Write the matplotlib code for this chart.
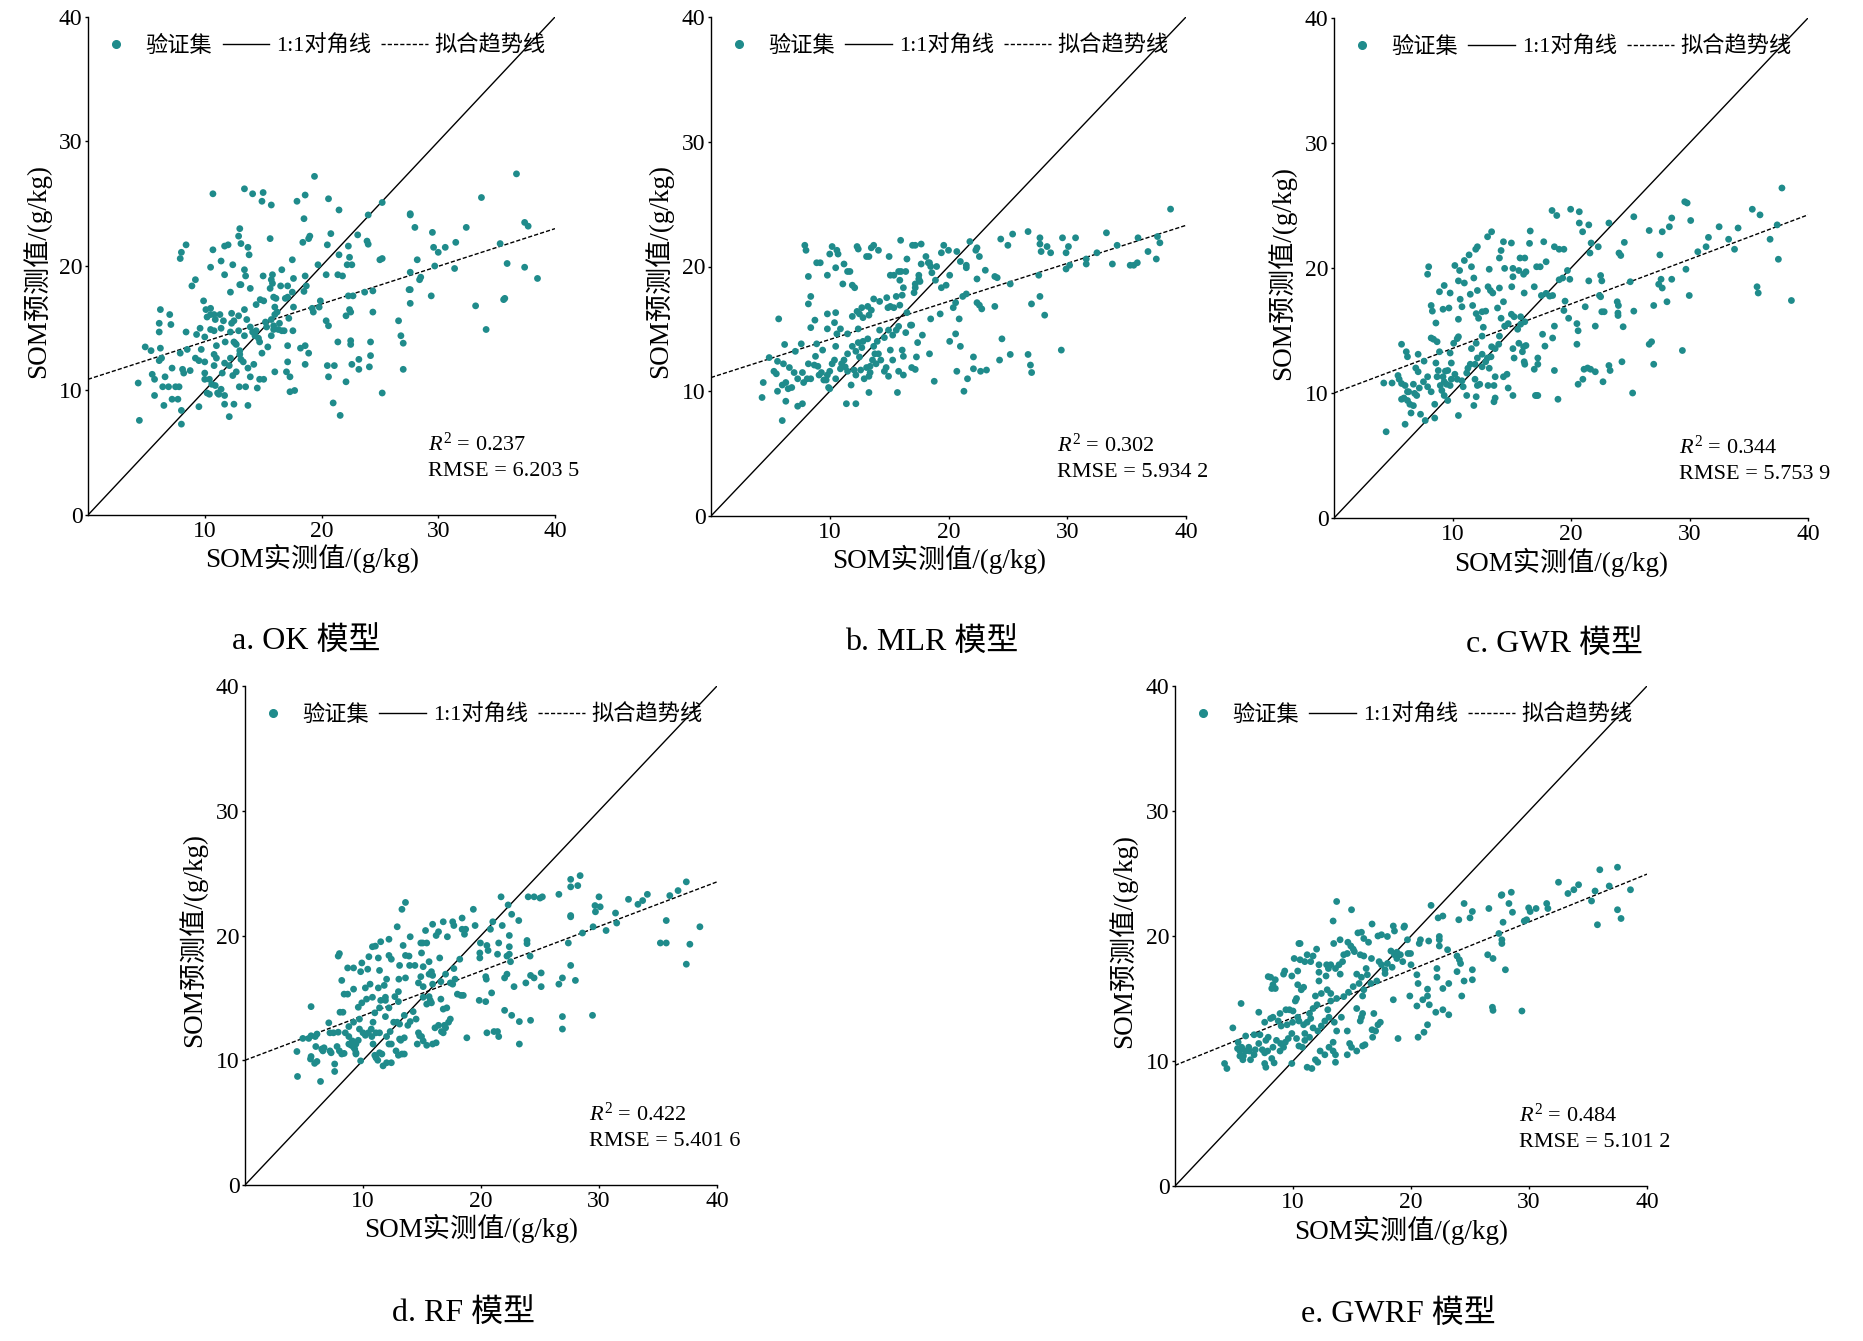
import matplotlib
matplotlib.use('Agg')
import matplotlib.pyplot as plt
from matplotlib.lines import Line2D

plt.rcParams['font.family'] = ['Liberation Serif', 'Noto Sans CJK SC']
plt.rcParams['mathtext.fontset'] = 'custom'
plt.rcParams['mathtext.rm'] = 'Liberation Serif'
plt.rcParams['mathtext.it'] = 'Liberation Serif:italic'
plt.rcParams['axes.unicode_minus'] = False

ok_points = [
    (19.4, 27.2), (36.7, 27.4), (10.7, 25.8), (13.4, 26.2), (14.1, 25.8), (15.0, 25.9), (14.9, 25.2),
    (15.7, 24.9), (18.6, 25.7), (17.9, 25.2), (20.6, 25.4), (21.5, 24.5), (25.2, 25.1), (24.0, 24.1),
    (18.5, 23.8), (33.7, 25.5), (27.6, 24.1), (27.6, 24.2), (28.0, 23.1), (32.4, 23.1), (37.4, 23.5),
    (37.7, 23.2), (29.5, 22.7), (13.0, 23.0), (15.6, 22.2), (20.8, 22.6), (19.0, 22.4), (18.9, 22.2),
    (23.1, 22.5), (23.9, 22.0), (24.0, 21.75), (31.5, 21.9), (35.3, 21.8), (8.4, 21.7), (8.0, 21.1),
    (7.9, 20.6), (10.7, 21.3), (11.7, 21.6), (12.0, 21.7), (13.1, 21.8), (13.7, 21.5), (13.8, 20.9),
    (12.9, 22.4), (18.4, 21.9), (20.5, 21.7), (22.3, 21.6), (21.5, 20.9), (25.0, 20.5), (25.2, 20.6),
    (28.2, 20.5), (29.6, 21.5), (30.0, 21.1), (30.6, 21.5), (11.4, 20.4), (12.4, 20.1), (10.5, 19.9),
    (11.7, 19.3), (13.4, 19.7), (13.5, 19.2), (15.0, 19.2), (15.8, 19.3), (16.6, 19.7), (17.5, 20.5),
    (17.6, 19.0), (18.6, 19.2), (19.7, 20.1), (20.4, 19.3), (21.4, 19.3), (21.8, 19.2), (22.2, 20.1),
    (22.6, 20.1), (22.4, 20.7), (27.6, 19.5), (28.5, 19.1), (28.4, 18.9), (29.7, 20.0), (31.4, 19.8),
    (35.9, 20.2), (37.4, 19.9), (38.5, 19.0), (9.2, 18.9), (8.9, 18.4), (12.2, 17.9), (13.0, 18.5),
    (13.1, 18.5), (13.9, 18.2), (15.7, 18.9), (15.8, 18.6), (16.5, 18.4), (17.1, 18.4), (17.5, 17.9),
    (18.7, 18.4), (18.5, 17.96), (27.5, 18.1), (27.6, 18.1), (27.6, 17.0), (29.4, 17.6), (24.4, 18.0),
    (23.7, 17.9), (22.3, 17.6), (22.7, 17.6), (19.9, 17.2), (19.8, 16.7), (19.2, 16.6), (19.3, 16.3),
    (24.4, 16.3), (22.4, 16.5), (22.5, 16.3), (22.1, 16.0), (33.2, 16.8), (35.7, 17.4), (35.6, 17.3),
    (34.1, 14.9), (26.6, 15.6), (26.8, 14.4), (27.0, 13.8), (27.0, 11.7), (20.4, 15.6), (20.6, 15.2),
    (21.4, 13.9), (22.5, 14.0), (22.5, 13.7), (24.2, 13.9), (24.2, 12.8), (23.2, 12.5), (23.2, 11.7),
    (24.1, 11.9), (22.6, 12.1), (20.5, 12.0), (21.1, 12.0), (20.6, 11.1), (22.1, 10.7), (21.0, 9.0),
    (21.6, 8.0), (25.2, 9.8), (18.6, 13.6), (18.9, 13.0), (18.6, 12.1), (18.2, 13.4), (17.1, 13.6),
    (17.1, 12.3), (16.0, 11.5), (17.0, 11.5), (17.3, 11.1), (17.3, 9.9), (17.7, 10.0), (14.7, 10.9),
    (15.05, 10.9), (14.5, 10.2), (13.5, 10.3), (12.96, 10.3), (13.7, 8.8), (12.5, 8.9), (11.7, 8.9),
    (12.1, 7.9), (9.5, 8.7), (8.0, 8.4), (8.0, 7.3), (4.4, 7.6), (4.3, 10.6), (6.5, 8.8), (7.2, 9.3),
    (7.7, 9.3), (5.7, 9.6), (4.9, 13.5), (5.4, 13.2), (5.5, 11.3), (5.7, 10.9), (6.1, 12.4), (6.2, 16.5),
    (6.1, 15.4), (6.1, 14.7), (7.0, 16.1), (7.1, 15.3), (6.2, 13.4), (6.3, 12.6), (6.6, 11.1), (6.4, 10.3),
    (6.9, 10.3), (7.2, 11.8), (7.5, 10.3), (7.8, 10.3), (7.9, 13.0), (8.1, 11.7), (8.2, 11.4), (8.4, 14.7),
    (8.5, 13.3), (8.75, 11.6), (9.2, 12.6), (9.3, 14.5), (9.6, 15.0), (9.7, 13.3), (9.5, 12.4), (10.0, 12.3),
    (10.0, 14.3), (9.9, 17.2), (10.1, 16.5), (10.5, 16.6), (10.2, 15.9), (10.5, 16.1), (10.8, 16.1),
    (10.9, 15.7), (11.3, 16.1), (10.5, 14.9), (10.8, 14.8), (11.4, 15.0), (11.0, 13.6), (10.8, 12.9),
    (11.0, 12.6), (10.8, 12.0), (10.0, 11.4), (10.0, 10.9), (10.4, 10.9), (10.6, 10.5), (10.9, 10.4),
    (10.2, 9.8), (10.4, 9.7), (11.1, 9.8), (11.2, 9.7), (11.7, 9.6), (11.4, 10.1), (11.5, 11.4),
    (11.7, 12.2), (12.1, 12.0), (12.4, 11.2), (12.7, 11.5), (11.75, 13.9), (12.2, 14.7), (12.3, 15.4),
    (11.6, 15.6), (12.3, 16.2), (12.6, 13.8), (12.7, 13.7), (13.0, 13.2), (13.1, 12.5), (13.3, 12.3),
    (13.4, 14.4), (13.4, 16.5), (13.6, 15.7), (13.9, 15.1), (14.1, 14.7), (14.4, 14.8), (14.75, 17.3),
    (15.05, 17.2), (14.7, 13.9), (14.9, 13.0), (15.4, 13.5), (15.7, 14.4), (16.0, 16.1), (16.0, 16.7),
    (16.2, 16.3), (16.4, 15.4), (16.8, 14.8), (15.9, 14.9), (15.3, 15.1), (15.2, 15.5), (15.7, 15.7),
    (15.9, 15.2), (16.3, 14.9), (16.6, 14.8), (17.2, 15.8), (17.55, 14.8), (17.6, 16.7), (17.1, 17.5),
    (15.6, 18.2), (15.9, 17.5), (16.1, 17.4), (16.9, 17.4), (14.4, 16.9), (14.3, 14.4), (14.6, 14.2),
    (12.5, 13.9), (12.9, 14.8), (12.5, 15.6), (12.9, 16.0), (13.0, 12.9), (12.2, 12.6), (13.7, 11.8),
    (13.9, 11.1), (14.2, 12.1),
]

mlr_points = [
    (7.9, 21.7), (8.0, 21.3), (10.2, 21.6), (10.6, 21.3), (10.7, 21.0), (10.0, 21.0), (12.3, 21.6),
    (12.4, 21.4), (13.1, 20.8), (13.3, 20.8), (13.7, 21.7), (14.1, 21.3), (13.5, 21.5), (15.0, 20.8),
    (15.97, 22.1), (16.97, 21.7), (17.2, 21.7), (17.7, 21.8), (16.5, 20.6), (18.1, 20.8), (18.4, 20.3),
    (19.6, 21.7), (20.0, 21.3), (19.4, 21.1), (20.7, 21.2), (21.8, 22.0), (22.4, 21.5), (22.3, 21.3),
    (22.6, 20.8), (24.4, 22.2), (25.4, 22.6), (26.7, 22.8), (25.0, 21.7), (27.7, 22.3), (27.7, 21.8),
    (28.3, 21.6), (28.6, 21.1), (27.8, 21.2), (29.6, 22.3), (30.7, 22.3), (30.1, 21.6), (29.9, 21.1),
    (32.5, 21.1), (33.3, 22.7), (34.2, 21.7), (35.96, 22.3), (37.6, 22.4), (37.8, 21.9), (36.8, 21.2),
    (38.7, 24.6), (37.5, 20.6), (33.8, 20.2), (31.6, 20.6), (31.6, 20.2), (35.3, 20.1), (35.6, 20.1),
    (35.9, 20.3), (29.9, 19.8), (30.2, 20.1), (27.6, 19.3), (27.7, 17.6), (26.99, 17.0), (28.1, 16.1),
    (29.5, 13.3), (26.7, 12.95), (26.9, 12.1), (27.0, 11.5), (25.2, 12.95), (24.3, 12.5), (24.5, 14.2),
    (23.9, 16.8), (24.1, 19.1), (23.9, 19.2), (25.2, 18.6), (23.1, 19.7), (22.4, 19.0), (21.5, 20.1),
    (21.5, 19.9), (21.0, 20.4), (20.1, 19.3), (19.8, 18.5), (19.4, 18.3), (18.9, 18.9), (19.0, 20.0),
    (18.6, 19.5), (18.5, 20.0), (17.7, 20.2), (17.5, 19.3), (17.6, 18.8), (17.2, 18.3), (17.1, 17.9),
    (17.5, 19.0), (17.2, 18.6), (18.3, 20.3), (16.0, 19.6), (15.8, 19.6), (15.1, 19.3), (15.4, 19.3),
    (16.4, 19.6), (15.9, 18.9), (16.2, 18.3), (16.1, 17.7), (15.9, 16.9), (15.4, 16.7), (14.9, 16.7),
    (14.8, 17.5), (14.2, 17.2), (13.7, 17.4), (13.5, 16.5), (13.2, 16.8), (13.3, 16.1), (12.8, 15.9),
    (12.5, 16.2), (12.3, 16.4), (12.4, 15.0), (11.9, 16.0), (11.9, 18.5), (12.1, 18.3), (11.1, 18.6),
    (11.7, 19.6), (11.5, 19.6), (11.2, 20.2), (10.5, 19.9), (9.8, 19.3), (9.2, 20.3), (8.9, 20.3),
    (8.2, 19.2), (8.4, 17.6), (8.2, 17.0), (8.75, 15.7), (8.4, 15.1), (9.8, 16.2), (10.5, 16.3),
    (10.4, 15.5), (10.6, 14.6), (10.9, 15.0), (10.5, 13.6), (9.8, 15.0), (9.4, 13.3), (8.9, 13.8),
    (8.8, 12.8), (7.6, 13.8), (7.1, 13.2), (6.2, 13.75), (5.7, 15.8), (4.9, 12.7), (5.6, 12.4),
    (5.3, 11.6), (5.5, 11.4), (6.1, 12.2), (6.6, 11.9), (7.0, 11.5), (6.3, 10.7), (6.0, 10.5),
    (6.5, 10.2), (6.8, 10.3), (7.3, 11.0), (7.7, 11.5), (7.8, 10.7), (8.1, 11.0), (8.4, 11.0),
    (8.2, 12.2), (8.7, 12.1), (9.0, 12.0), (9.1, 11.3), (9.3, 11.5), (9.5, 10.9), (9.8, 11.3),
    (9.7, 10.9), (10.0, 11.6), (10.2, 12.2), (10.4, 12.5), (10.5, 11.0), (9.9, 10.3), (10.0, 10.2),
    (4.3, 9.5), (4.4, 10.7), (5.6, 10.0), (6.3, 9.2), (6.0, 7.65), (7.3, 8.8), (7.7, 9.0), (11.4, 9.0),
    (12.2, 9.0), (13.3, 9.9), (15.7, 9.9), (18.8, 10.8), (21.3, 10.0), (21.6, 11.0), (20.7, 11.6),
    (22.1, 11.8), (22.7, 11.6), (23.2, 11.7), (22.1, 12.75), (21.0, 13.6), (20.1, 14.0), (20.6, 14.6),
    (20.9, 15.8), (20.4, 16.7), (20.6, 17.1), (21.2, 17.6), (22.4, 17.1), (22.6, 16.9), (22.8, 16.6),
    (21.5, 17.8), (19.3, 16.2), (18.5, 15.8), (18.4, 13.0), (17.8, 14.5), (17.4, 13.9), (17.3, 12.75),
    (17.2, 11.75), (16.9, 11.9), (16.2, 12.8), (16.2, 11.3), (15.8, 11.6), (16.1, 13.3), (16.4, 14.7),
    (16.8, 15.3), (16.9, 15.3), (16.5, 16.3), (15.6, 14.9), (15.8, 15.2), (15.3, 14.5), (14.95, 14.9),
    (14.6, 14.3), (14.2, 14.9), (14.0, 14.0), (13.6, 12.5), (13.9, 12.2), (13.4, 12.0), (13.1, 11.9),
    (13.4, 11.5), (13.3, 11.2), (12.9, 11.0), (12.6, 11.7), (12.05, 11.7), (12.5, 12.75), (12.2, 13.2),
    (11.9, 13.6), (11.5, 13.0), (11.2, 12.5), (11.0, 12.2), (11.3, 11.95), (11.5, 11.6), (10.9, 11.8),
    (11.8, 10.5), (12.2, 11.3), (12.4, 13.9), (12.8, 14.0), (13.2, 14.2), (13.7, 13.6), (14.1, 13.0),
    (14.3, 12.5), (14.75, 11.9), (14.95, 11.2), (15.3, 12.5), (15.1, 13.3), (14.6, 11.6), (13.8, 13.0),
    (12.7, 13.5), (11.5, 14.6), (12.7, 16.7), (15.1, 16.8), (15.6, 17.6),
]

gwr_points = [
    (37.8, 26.4), (29.6, 25.3), (29.8, 25.2), (35.3, 24.7), (35.95, 24.25), (18.4, 24.6), (19.97, 24.7),
    (20.7, 24.5), (18.8, 24.2), (25.3, 24.1), (20.7, 23.6), (21.5, 23.45), (23.2, 23.6), (28.5, 24.0),
    (30.1, 23.8), (28.3, 23.3), (27.7, 22.9), (26.6, 23.0), (32.5, 23.3), (34.1, 23.2), (37.4, 23.45),
    (36.8, 22.3), (20.98, 22.9), (13.3, 22.9), (12.96, 22.5), (14.3, 22.1), (14.97, 22.0), (16.56, 22.96),
    (16.5, 21.97), (17.7, 22.1), (21.7, 22.0), (22.3, 21.7), (21.6, 21.2), (24.5, 22.05), (24.05, 21.2),
    (24.2, 21.0), (31.6, 22.45), (33.3, 22.3), (33.8, 21.5), (31.4, 21.7), (30.7, 21.3), (12.1, 21.7),
    (11.96, 21.5), (11.4, 21.05), (11.0, 20.6), (14.1, 21.4), (13.96, 20.8), (15.7, 20.8), (16.1, 20.8),
    (18.6, 21.7), (19.0, 21.5), (19.4, 21.5), (17.9, 20.5), (17.1, 20.1), (17.4, 20.1), (7.99, 20.1),
    (7.9, 19.5), (10.2, 20.2), (10.6, 19.8), (11.6, 20.1), (13.1, 19.9), (14.4, 19.97), (15.1, 19.97),
    (15.1, 19.3), (15.6, 19.8), (16.0, 19.5), (16.2, 19.7), (11.8, 19.2), (10.5, 18.97), (9.3, 18.6),
    (8.9, 18.1), (9.8, 18.0), (11.0, 18.8), (11.5, 17.9), (12.1, 18.2), (13.0, 18.5), (13.2, 18.2),
    (13.96, 18.4), (15.0, 18.5), (13.4, 18.0), (16.05, 18.0), (16.9, 18.5), (17.5, 17.8), (17.9, 17.97),
    (18.2, 17.75), (18.45, 17.8), (19.0, 19.06), (19.3, 19.2), (19.7, 19.8), (19.9, 19.1), (21.5, 18.97),
    (22.5, 19.4), (22.6, 18.97), (22.4, 17.8), (22.5, 17.7), (25.0, 18.9), (27.5, 21.05), (27.6, 19.1),
    (27.4, 18.7), (27.7, 18.4), (28.5, 19.1), (29.7, 19.9), (29.98, 17.8), (28.1, 17.3), (26.98, 17.0),
    (35.7, 18.5), (35.8, 18.0), (38.6, 17.4), (37.5, 20.7), (23.9, 17.3), (24.0, 17.0), (23.96, 16.4),
    (23.97, 16.2), (25.3, 16.55), (24.4, 15.3), (22.05, 15.35), (22.6, 16.5), (22.8, 16.5), (21.2, 16.9),
    (20.5, 15.55), (20.6, 14.98), (19.8, 15.98), (20.5, 13.9), (19.5, 17.35), (19.4, 16.6), (18.6, 15.35),
    (18.45, 14.4), (18.6, 11.8), (18.9, 9.5), (20.6, 10.7), (21.1, 11.9), (21.0, 11.1), (21.4, 12.0),
    (21.65, 11.9), (22.05, 11.7), (22.7, 10.9), (23.2, 12.2), (23.3, 11.8), (24.3, 12.5), (25.2, 10.0),
    (26.6, 13.9), (26.8, 14.1), (26.98, 12.3), (29.4, 13.4), (17.6, 14.7), (17.8, 13.75), (17.2, 12.8),
    (17.2, 12.3), (16.9, 11.9), (17.1, 9.8), (17.2, 9.8), (17.0, 9.8), (16.05, 12.5), (16.1, 12.3),
    (15.9, 13.3), (16.0, 13.7), (16.2, 13.8), (15.6, 13.98), (15.2, 12.8), (15.1, 13.55), (15.5, 15.1),
    (15.75, 15.5), (16.1, 15.7), (15.75, 16.1), (14.97, 16.3), (15.2, 16.1), (14.7, 15.55), (14.4, 15.35),
    (14.1, 15.98), (14.3, 17.3), (13.8, 16.8), (13.96, 14.55), (13.9, 13.9), (13.6, 13.55), (13.3, 13.7),
    (13.25, 12.9), (12.95, 12.8), (12.5, 13.1), (12.8, 12.5), (13.1, 11.98), (13.6, 11.3), (14.3, 11.3),
    (14.6, 11.5), (14.7, 10.4), (15.1, 9.8), (13.5, 10.6), (13.0, 10.6), (13.6, 9.6), (13.5, 9.3),
    (12.1, 10.6), (12.3, 10.7), (11.9, 11.1), (12.0, 9.7), (11.8, 9.0), (11.2, 9.8), (10.5, 8.2),
    (10.9, 10.5), (10.8, 10.98), (11.2, 11.6), (11.3, 11.98), (11.5, 12.3), (11.9, 12.3), (12.1, 12.8),
    (12.5, 12.1), (11.6, 13.55), (12.0, 13.98), (12.5, 14.55), (12.6, 15.26), (12.2, 15.98), (12.0, 16.35),
    (12.5, 16.5), (12.8, 16.55), (11.7, 17.0), (10.8, 16.9), (10.65, 17.5), (10.5, 15.9), (10.5, 14.5),
    (10.4, 14.35), (10.1, 13.98), (9.8, 13.2), (9.9, 12.4), (9.6, 11.8), (9.4, 11.75), (9.2, 11.3),
    (9.3, 10.9), (9.5, 10.7), (9.8, 10.6), (9.9, 11.1), (10.2, 11.5), (10.4, 11.1), (8.97, 10.6),
    (9.1, 10.2), (9.3, 9.8), (9.6, 9.4), (8.7, 11.3), (8.8, 11.8), (8.6, 12.4), (8.9, 13.3), (8.4, 14.3),
    (8.2, 14.4), (8.7, 14.1), (8.6, 15.6), (8.3, 16.55), (8.2, 17.0), (9.2, 16.7), (9.7, 16.8), (8.5, 9.1),
    (8.5, 8.0), (7.3, 8.3), (7.7, 7.8), (6.98, 9.8), (7.2, 10.4), (7.55, 10.9), (7.9, 11.3), (7.9, 10.5),
    (8.2, 10.1), (7.1, 11.7), (6.9, 12.0), (7.1, 13.1), (7.6, 12.55), (6.7, 10.7), (6.8, 9.97), (6.3, 10.1),
    (6.2, 9.4), (6.4, 9.1), (6.7, 8.99), (6.5, 8.4), (6.0, 7.5), (5.7, 9.5), (5.9, 9.6), (5.4, 11.4),
    (5.5, 11.1), (5.7, 10.76), (6.0, 10.6), (6.2, 10.1), (4.2, 10.8), (4.9, 10.8), (5.7, 13.9), (6.1, 13.3),
    (6.2, 12.9), (4.4, 6.9),
]

rf_points = [
    (28.4, 24.8), (27.6, 24.5), (27.6, 23.9), (28.2, 24.0), (37.4, 24.3), (36.7, 23.6), (36.0, 23.2),
    (34.1, 23.3), (33.7, 22.8), (33.3, 22.5), (32.5, 22.9), (30.0, 23.1), (29.66, 22.4), (30.1, 22.3),
    (29.7, 21.9), (26.6, 23.3), (24.0, 23.1), (24.5, 23.1), (25.0, 23.0), (25.2, 23.1), (21.7, 23.1),
    (22.3, 22.45), (22.6, 21.7), (23.2, 21.2), (21.8, 20.8), (21.0, 21.1), (20.8, 20.5), (22.4, 20.0),
    (22.4, 19.1), (22.4, 18.5), (22.2, 18.35), (22.5, 17.9), (21.4, 18.5), (21.5, 19.4), (20.5, 19.2),
    (20.6, 18.8), (19.95, 19.4), (19.9, 18.6), (19.9, 18.2), (19.5, 20.8), (19.35, 22.1), (18.6, 20.1),
    (18.4, 20.5), (18.7, 20.5), (18.4, 21.4), (17.7, 20.8), (17.6, 21.1), (16.8, 21.1), (16.4, 20.3),
    (15.9, 20.9), (16.2, 20.0), (17.15, 19.9), (15.3, 20.4), (14.9, 19.4), (15.06, 19.4), (14.96, 18.6),
    (15.4, 19.4), (14.0, 19.9), (13.6, 22.65), (13.3, 22.1), (12.9, 20.7), (12.2, 19.7), (11.5, 19.5),
    (10.8, 19.1), (11.05, 19.15), (10.5, 18.3), (11.3, 18.2), (12.2, 18.4), (12.4, 18.1), (13.4, 19.2),
    (13.6, 18.4), (13.9, 18.35), (13.1, 17.6), (13.95, 17.6), (14.4, 17.6), (15.1, 17.5), (15.6, 17.9),
    (15.8, 17.1), (15.9, 16.8), (15.6, 16.9), (16.5, 18.2), (17.0, 16.9), (17.7, 17.35), (17.8, 16.5),
    (17.6, 16.1), (17.4, 16.2), (18.0, 15.3), (18.3, 15.2), (18.5, 15.2), (18.2, 18.1), (16.6, 16.3),
    (16.6, 14.9), (15.9, 16.1), (15.6, 15.1), (15.7, 14.8), (15.8, 14.6), (15.4, 14.5), (15.1, 15.05),
    (15.1, 15.9), (14.7, 16.2), (14.9, 16.7), (13.6, 16.6), (13.04, 16.5), (13.0, 15.5), (12.7, 15.1),
    (13.0, 14.7), (12.0, 16.5), (11.8, 16.0), (11.9, 15.05), (11.9, 14.8), (11.4, 17.2), (10.4, 17.3),
    (9.9, 17.8), (9.8, 17.1), (9.2, 17.4), (8.7, 17.4), (8.2, 16.4), (7.9, 18.35), (8.0, 18.55),
    (8.4, 15.3), (8.7, 15.3), (9.2, 15.7), (10.2, 15.8), (10.6, 16.1), (10.3, 14.9), (10.8, 15.05),
    (11.3, 15.8), (9.9, 14.6), (9.6, 14.25), (11.0, 13.8), (10.85, 13.05), (11.4, 14.2), (11.5, 14.8),
    (12.2, 14.2), (11.9, 13.5), (12.6, 13.05), (12.3, 12.3), (12.0, 11.9), (12.2, 11.3), (12.4, 11.3),
    (12.8, 10.75), (13.0, 10.4), (13.3, 10.5), (13.5, 10.5), (13.1, 11.7), (13.2, 11.6), (13.5, 11.8),
    (13.8, 12.8), (14.0, 13.1), (14.5, 13.3), (13.5, 13.6), (14.25, 13.9), (12.9, 13.05), (13.1, 12.9),
    (14.7, 12.2), (14.8, 11.96), (14.96, 11.9), (14.6, 11.3), (15.1, 11.55), (15.4, 11.2), (15.9, 11.3),
    (16.2, 11.4), (16.1, 12.6), (16.4, 12.8), (16.9, 12.8), (16.65, 12.3), (16.8, 12.2), (17.0, 12.6),
    (17.25, 13.05), (17.4, 13.3), (17.1, 14.2), (16.8, 14.1), (18.8, 11.8), (20.5, 12.2), (21.1, 12.3),
    (21.4, 12.3), (21.5, 11.9), (22.0, 14.0), (22.6, 13.6), (23.25, 13.1), (24.2, 13.2), (23.25, 11.3),
    (19.85, 14.8), (20.4, 14.7), (20.9, 15.4), (20.45, 16.5), (20.4, 16.7), (22.8, 15.9), (22.2, 16.9),
    (22.0, 16.6), (23.8, 16.2), (24.2, 16.8), (24.5, 16.6), (25.1, 17.0), (25.1, 15.9), (23.9, 19.6),
    (23.9, 19.35), (24.16, 18.35), (26.6, 16.1), (26.9, 16.6), (28.0, 16.4), (27.6, 17.6), (27.4, 19.4),
    (27.6, 21.5), (27.6, 21.6), (28.6, 20.2), (29.5, 20.7), (30.6, 20.4), (31.4, 21.8), (31.5, 21.0),
    (35.7, 21.2), (38.55, 20.7), (35.2, 19.4), (35.7, 19.4), (37.7, 19.3), (37.4, 17.7), (29.45, 13.6),
    (26.9, 13.5), (26.9, 12.5), (4.45, 8.7), (4.4, 10.7), (5.6, 14.3), (4.9, 11.75), (5.4, 11.75),
    (5.6, 11.96), (6.1, 12.1), (5.95, 11.9), (5.6, 10.3), (5.55, 10.1), (5.9, 9.75), (6.1, 9.9), (6.4, 8.3),
    (6.0, 11.1), (6.5, 10.9), (6.7, 11.0), (6.6, 10.75), (7.1, 13.0), (7.2, 12.2), (7.3, 10.6), (7.2, 10.75),
    (7.6, 9.7), (7.6, 9.1), (7.5, 12.2), (7.9, 12.25), (7.8, 11.1), (8.0, 10.75), (8.2, 10.5), (8.4, 10.55),
    (8.05, 13.85), (8.3, 13.85), (8.8, 12.7), (8.5, 12.2), (8.8, 11.9), (8.8, 11.3), (9.1, 11.55),
    (9.0, 11.2), (9.2, 11.05), (9.3, 10.9), (9.4, 11.3), (9.6, 11.6), (9.4, 10.6), (9.4, 10.5), (9.8, 9.95),
    (9.7, 12.5), (9.2, 13.05), (9.7, 13.3), (10.0, 12.2), (10.2, 12.0), (10.45, 12.2), (10.7, 12.5),
    (10.75, 11.9), (10.85, 11.3), (11.0, 10.4), (11.1, 10.2), (11.25, 10.0), (11.4, 10.6), (11.1, 12.2),
    (11.4, 12.2), (11.6, 10.5), (11.7, 9.55), (12.0, 9.8), (12.4, 9.8),
]

gwrf_points = [
    (37.5, 25.5), (36.0, 25.3), (32.5, 24.3), (34.2, 24.1), (33.3, 23.4), (33.8, 23.7), (35.6, 23.6),
    (36.8, 24.0), (38.6, 23.7), (35.3, 22.8), (37.5, 22.1), (37.8, 21.4), (35.8, 20.9), (28.5, 23.5),
    (27.65, 23.25), (27.7, 23.3), (28.3, 22.6), (28.6, 21.9), (26.6, 22.2), (27.8, 21.1), (29.97, 22.25),
    (30.1, 21.96), (30.6, 22.2), (31.5, 22.6), (31.6, 22.2), (29.6, 21.2), (29.8, 21.3), (27.45, 20.2),
    (27.7, 19.7), (27.7, 19.4), (26.5, 18.5), (26.95, 18.2), (28.0, 17.3), (29.4, 14.0), (26.9, 14.3),
    (26.95, 14.05), (24.5, 22.6), (25.2, 21.96), (25.0, 21.45), (24.05, 21.3), (21.7, 22.45), (22.3, 21.45),
    (22.7, 21.6), (22.4, 19.96), (22.4, 19.7), (22.4, 19.2), (21.5, 19.6), (20.8, 19.7), (20.7, 19.4),
    (19.7, 19.7), (19.96, 18.6), (19.75, 18.6), (19.45, 20.8), (19.4, 20.7), (18.5, 20.8), (18.6, 20.4),
    (18.0, 19.96), (17.5, 20.1), (17.2, 20.0), (16.7, 20.96), (16.0, 19.8), (16.4, 19.5), (15.8, 20.3),
    (15.5, 20.25), (14.96, 22.1), (13.7, 22.76), (13.4, 21.2), (13.99, 19.7), (13.45, 19.4), (14.65, 19.5),
    (14.9, 19.2), (15.1, 18.95), (15.2, 18.75), (14.6, 18.6), (14.3, 18.5), (15.7, 18.5), (16.0, 18.4),
    (16.65, 18.2), (17.3, 17.95), (17.5, 17.7), (17.8, 17.3), (17.8, 17.0), (18.0, 17.8), (18.4, 17.5),
    (18.8, 18.2), (19.1, 18.5), (19.3, 17.95), (18.3, 18.8), (18.6, 18.5), (18.8, 18.7), (20.0, 17.7),
    (20.5, 16.9), (20.6, 16.2), (21.4, 15.75), (22.2, 17.4), (22.2, 16.7), (22.7, 15.8), (23.2, 16.2),
    (22.7, 14.1), (22.1, 13.9), (23.2, 13.7), (23.1, 18.9), (23.9, 18.4), (24.1, 18.1), (24.2, 17.8),
    (23.9, 17.15), (24.5, 16.4), (25.2, 16.5), (25.2, 17.3), (24.3, 15.2), (21.4, 15.2), (21.55, 14.5),
    (20.5, 14.4), (21.0, 14.9), (19.9, 15.2), (18.5, 14.9), (18.9, 11.8), (20.6, 11.9), (21.1, 12.3),
    (21.4, 12.9), (17.1, 16.4), (16.6, 16.2), (16.0, 15.7), (15.9, 15.2), (15.6, 16.2), (15.4, 16.95),
    (15.8, 16.7), (16.2, 17.4), (16.3, 16.9), (15.1, 15.95), (14.7, 15.5), (14.3, 15.15), (14.0, 16.95),
    (14.2, 17.95), (13.9, 17.7), (13.6, 17.4), (13.2, 17.7), (12.85, 17.7), (13.0, 17.4), (12.8, 16.8),
    (12.2, 17.7), (12.2, 17.1), (12.2, 16.4), (12.0, 18.95), (11.7, 18.4), (11.5, 17.95), (11.2, 18.5),
    (11.0, 17.95), (10.6, 18.1), (10.4, 17.2), (10.1, 18.2), (9.9, 16.8), (10.5, 19.4), (10.6, 19.4),
    (10.4, 16.1), (10.7, 15.7), (10.9, 15.9), (10.3, 15.0), (10.2, 14.8), (9.7, 14.1), (10.0, 14.0),
    (9.3, 17.2), (9.2, 16.95), (8.5, 16.5), (8.1, 16.7), (7.9, 16.75), (8.3, 16.1), (8.2, 15.8), (8.5, 15.8),
    (7.1, 13.9), (5.6, 14.6), (9.4, 14.1), (8.9, 13.8), (8.3, 13.5), (8.1, 13.4), (7.6, 13.1), (8.75, 13.2),
    (9.0, 12.8), (9.5, 12.9), (9.96, 13.1), (10.4, 13.5), (10.5, 13.2), (10.9, 12.9), (11.2, 13.1),
    (11.5, 13.4), (11.4, 13.8), (11.7, 14.2), (12.04, 14.5), (11.9, 15.2), (12.4, 15.4), (12.9, 15.7),
    (13.2, 15.4), (13.2, 14.8), (13.7, 15.0), (12.95, 14.1), (13.05, 13.5), (12.7, 13.2), (12.4, 12.8),
    (12.1, 12.4), (11.7, 12.65), (11.4, 11.9), (11.0, 12.2), (11.0, 11.65), (10.8, 11.1), (10.5, 11.2),
    (10.3, 11.8), (9.9, 12.2), (9.6, 11.8), (9.35, 11.5), (9.2, 11.1), (8.95, 11.4), (8.6, 11.65),
    (8.9, 10.8), (8.3, 11.1), (7.9, 11.9), (7.7, 11.65), (7.4, 10.9), (7.6, 10.65), (8.2, 10.2),
    (7.85, 10.8), (7.1, 11.4), (6.8, 10.9), (6.7, 10.5), (6.3, 10.8), (6.25, 11.1), (5.99, 10.8),
    (5.8, 10.4), (5.65, 11.1), (5.5, 10.8), (5.35, 11.5), (5.3, 11.0), (5.99, 12.0), (6.7, 12.1),
    (7.2, 12.1), (4.9, 12.65), (5.5, 10.4), (5.75, 10.1), (6.4, 10.1), (4.2, 9.8), (4.4, 9.4), (7.6, 9.8),
    (7.7, 9.5), (8.4, 9.85), (9.9, 9.8), (11.2, 9.5), (11.6, 9.4), (11.9, 10.1), (12.1, 9.9), (12.3, 10.8),
    (12.7, 10.5), (13.05, 11.1), (13.4, 10.8), (13.6, 10.5), (13.6, 9.9), (14.6, 10.5), (14.8, 11.4),
    (14.96, 11.1), (15.4, 10.8), (15.9, 11.2), (16.1, 11.3), (16.75, 11.9), (17.0, 12.4), (17.2, 12.9),
    (17.4, 13.1), (16.7, 12.5), (16.85, 13.8), (15.9, 13.8), (15.7, 13.2), (15.8, 13.5), (15.4, 14.2),
    (14.6, 12.4), (14.1, 13.5), (13.7, 12.4), (13.5, 13.1), (13.4, 11.5),
]

# fitted trend lines read at x = 0 and x = 40
trend_start = [10.9, 11.1, 10.0, 10.0, 9.65]
trend_end = [23.0, 23.3, 24.25, 24.3, 24.95]
r2_values = ['0.237', '0.302', '0.344', '0.422', '0.484']
rmse_values = ['6.203 5', '5.934 2', '5.753 9', '5.401 6', '5.101 2']
captions = ['a. OK 模型', 'b. MLR 模型', 'c. GWR 模型', 'd. RF 模型', 'e. GWRF 模型']
all_points = [ok_points, mlr_points, gwr_points, rf_points, gwrf_points]

W, H = 1863, 1341
# axes boxes in pixels: left, top, right, bottom
boxes = [(88, 17, 555, 515), (711, 17, 1186, 516), (1334, 18, 1808, 518),
         (245, 686, 717, 1185), (1175, 686, 1647, 1186)]
caption_xy = [(306, 641), (932, 642), (1555, 644), (464, 1313), (1398, 1314)]

dot_color = '#1f8b8b'

fig = plt.figure(figsize=(W / 100, H / 100), dpi=100)

for i in range(5):
    l, t, r, b = boxes[i]
    ax = fig.add_axes([l / W, 1 - b / H, (r - l) / W, (b - t) / H])
    xs = [p[0] for p in all_points[i]]
    ys = [p[1] for p in all_points[i]]
    ax.scatter(xs, ys, s=24, color=dot_color, edgecolors='none', zorder=3)
    ax.plot([0, 40], [0, 40], color='black', lw=1.0, zorder=2)
    ax.plot([0, 40], [trend_start[i], trend_end[i]], color='black', lw=1.0,
            ls=(0, (3, 1.5)), zorder=2)

    ax.set_xlim(0, 40)
    ax.set_ylim(0, 40)
    ax.set_xticks([10, 20, 30, 40])
    ax.set_yticks([0, 10, 20, 30, 40])
    ax.tick_params(direction='out', length=2.5, width=1, labelsize=17)
    ax.tick_params(axis='x', pad=1.5)
    ax.tick_params(axis='y', pad=1.5)
    for side in ['top', 'right']:
        ax.spines[side].set_visible(False)
    for side in ['left', 'bottom']:
        ax.spines[side].set_linewidth(1.0)

    ax.set_xlabel('SOM实测值/(g/kg)', fontsize=19.5)
    ax.xaxis.set_label_coords(0.48, -0.088)
    ax.xaxis.label.set_va('center')
    ax.set_ylabel('SOM预测值/(g/kg)', fontsize=19.5)
    ax.yaxis.set_label_coords(-0.11, 0.49)
    ax.yaxis.label.set_va('center')

    ax.text(29.15, 5.65, r'$\mathit{R}^2$ = ' + r2_values[i], fontsize=16, va='center')
    ax.text(29.15, 3.5, 'RMSE = ' + rmse_values[i], fontsize=16, va='center')

    handles = [
        Line2D([], [], ls='none', marker='o', markersize=5.5, color=dot_color),
        Line2D([], [], color='black', lw=1.0),
        Line2D([], [], color='black', lw=1.0, ls=(0, (3, 1.5))),
    ]
    ax.legend(handles, ['验证集', '1:1对角线', '拟合趋势线'], loc='upper left',
              bbox_to_anchor=(-0.019, 0.99), ncol=3, frameon=False, fontsize=16,
              handlelength=2.1, handletextpad=0.3, columnspacing=0.45,
              borderaxespad=0.2)

    cx, cy = caption_xy[i]
    fig.text(cx / W, 1 - cy / H, captions[i], fontsize=23, ha='center', va='center')

fig.savefig('out.png', dpi=100)
